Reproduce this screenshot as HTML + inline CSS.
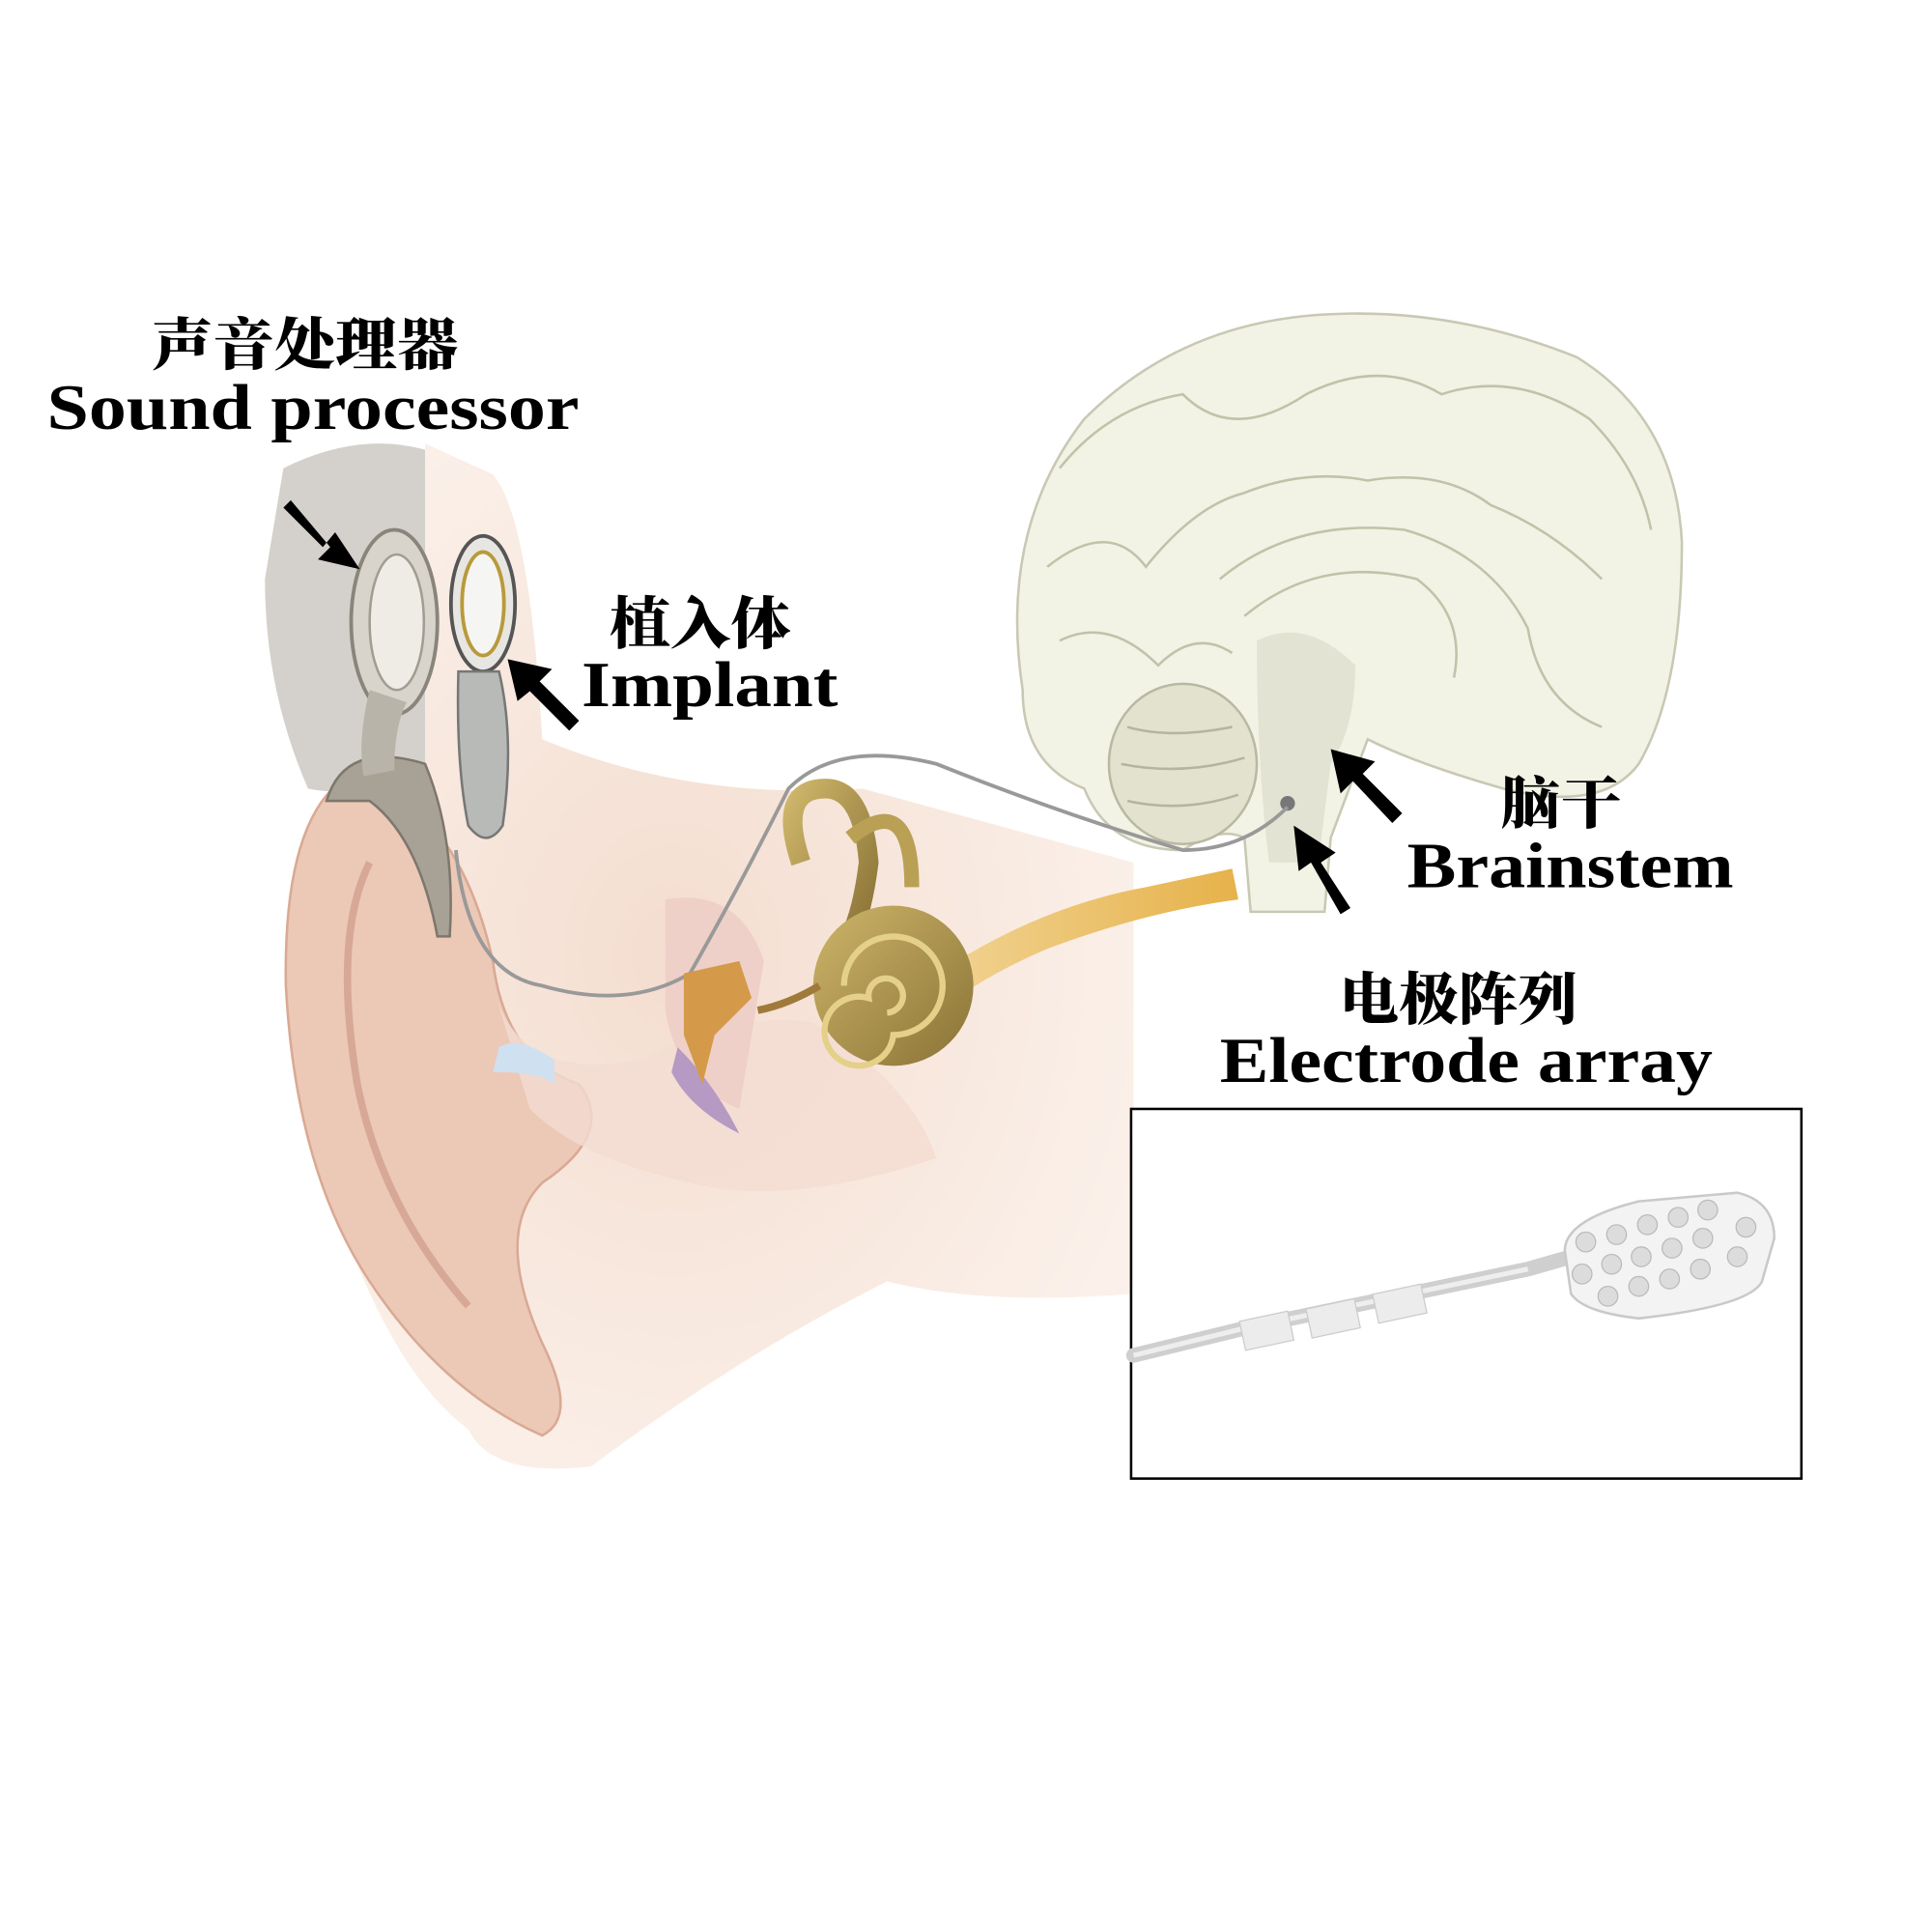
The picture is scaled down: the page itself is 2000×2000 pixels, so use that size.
<!DOCTYPE html>
<html><head><meta charset="utf-8"><style>
html,body{margin:0;padding:0;background:#fff}
svg{display:block}
text{font-family:"Liberation Serif","Noto Serif CJK SC",serif;font-weight:bold;fill:#000}
.cjk{font-family:"Noto Serif CJK SC","Liberation Serif",serif;font-weight:900}
</style></head><body>
<svg width="2000" height="2000" viewBox="0 0 1568 1568" xmlns="http://www.w3.org/2000/svg">
<defs>
<radialGradient id="skin" cx="0.45" cy="0.5" r="0.6"><stop offset="0" stop-color="#f4ddd0"/><stop offset="1" stop-color="#fbf1ea"/></radialGradient>
<linearGradient id="gold" x1="0" y1="0" x2="1" y2="1"><stop offset="0" stop-color="#cdb56a"/><stop offset="1" stop-color="#8a7236"/></linearGradient>
<linearGradient id="nerve" x1="0" y1="0" x2="1" y2="0"><stop offset="0" stop-color="#f3d9a0"/><stop offset="1" stop-color="#e6b24a"/></linearGradient>
</defs>
<rect width="1568" height="1568" fill="#fff"/>
<path d="M230 380 Q290 350 345 365 L350 620 Q300 650 250 640 Q215 560 215 470 Z" fill="#c9c6c0" opacity="0.8"/>
<path d="M345 360 L400 385 Q430 420 440 600 Q560 650 700 640 L920 700 L920 1050 Q800 1060 720 1040 Q600 1100 480 1190 Q400 1200 380 1160 Q300 1100 250 900 Q230 780 250 700 Q280 640 345 620 Z" fill="url(#skin)"/>
<path d="M270 640 Q230 680 232 800 Q240 950 300 1040 Q360 1130 440 1165 Q470 1150 440 1090 Q400 1000 440 960 Q500 920 470 880 Q410 860 400 780 Q380 690 330 650 Z" fill="#ecc8b6" stroke="#d9a994" stroke-width="2"/>
<path d="M300 700 Q270 760 290 880 Q310 980 380 1060" fill="none" stroke="#d7a896" stroke-width="6"/>
<path d="M400 800 Q420 880 520 860 Q600 820 660 830 Q740 880 760 940 Q640 980 560 960 Q470 940 430 900 Z" fill="#f4dcd2" opacity="0.8"/>
<path d="M540 730 Q600 720 620 780 L600 900 Q550 880 540 820 Z" fill="#efd0c8"/>
<path d="M550 850 Q580 880 600 920 Q560 900 545 870 Z" fill="#b79ac4"/>
<path d="M400 870 Q440 870 450 880 L450 860 Q420 840 405 850 Z" fill="#cfe0f0"/>
<path d="M720 820 Q820 740 930 720 L1000 705 L1005 730 Q930 740 850 770 Q780 800 740 840 Z" fill="url(#nerve)"/>
<path d="M830 560 Q810 430 880 340 Q960 260 1080 255 Q1180 250 1280 290 Q1360 340 1365 440 Q1365 560 1330 620 Q1300 660 1220 640 Q1150 620 1110 600 L1080 680 L1075 740 L1015 740 L1010 680 Q990 670 960 690 Q900 690 880 640 Q830 620 830 560 Z" fill="#f2f3e4" stroke="#c8c8b4" stroke-width="2"/>
<g fill="none" stroke="#c2c2aa" stroke-width="2">
<path d="M860 380 Q900 330 960 320 Q1000 360 1060 320 Q1120 290 1170 320 Q1230 300 1290 340 Q1330 380 1340 430"/>
<path d="M850 460 Q900 420 930 460 Q970 410 1010 400 Q1060 380 1110 390 Q1170 380 1210 410 Q1260 430 1300 470"/>
<path d="M990 470 Q1050 420 1140 430 Q1210 450 1240 510 Q1250 570 1300 590"/>
<path d="M1010 500 Q1070 450 1150 470 Q1190 500 1180 550"/>
<path d="M860 520 Q900 500 940 540 Q970 510 1000 530"/>
</g>
<ellipse cx="960" cy="620" rx="60" ry="65" fill="#e2e2cf" stroke="#b9b9a3" stroke-width="2"/>
<path d="M915 590 Q950 600 1000 590 M910 620 Q960 630 1010 615 M915 650 Q960 660 1005 645" stroke="#b5b59f" fill="none" stroke-width="2"/>
<path d="M1020 520 Q1060 500 1100 540 Q1100 590 1080 620 L1070 700 L1030 700 Q1020 620 1020 520 Z" fill="#e3e3d3"/>
<circle cx="1045" cy="652" r="6" fill="#777"/>
<path d="M370 690 Q380 790 440 800 Q510 820 560 790 Q600 720 640 640 Q680 600 760 620 Q860 660 960 690 Q1010 690 1045 655" fill="none" stroke="#999" stroke-width="3"/>
<path d="M265 650 Q280 600 345 620 Q370 680 365 760 L355 760 Q340 680 300 650 Z" fill="#a8a296" stroke="#7d776d" stroke-width="2"/>
<ellipse cx="320" cy="505" rx="35" ry="75" fill="#d8d4cc" stroke="#8a857b" stroke-width="3"/>
<ellipse cx="322" cy="505" rx="22" ry="55" fill="#efece6" stroke="#a29d92" stroke-width="2"/>
<path d="M300 560 Q290 600 295 630 L320 625 Q320 590 330 570 Z" fill="#b9b4aa"/>
<ellipse cx="392" cy="490" rx="26" ry="55" fill="#e8e6e2" stroke="#555" stroke-width="3"/>
<ellipse cx="392" cy="490" rx="17" ry="42" fill="#f5f5f3" stroke="#b99a3a" stroke-width="3"/>
<path d="M372 545 Q370 620 380 670 Q395 690 408 670 Q418 600 405 545 Z" fill="#b8bab8" stroke="#777" stroke-width="2"/>
<path d="M650 700 Q630 640 670 640 Q700 640 705 700 Q700 740 690 760" fill="none" stroke="url(#gold)" stroke-width="16"/>
<path d="M690 680 Q740 640 740 720" fill="none" stroke="#b9a055" stroke-width="12"/>
<circle cx="725" cy="800" r="65" fill="url(#gold)"/>
<path d="M725 800 m-40 0 a40 40 0 1 1 40 40 a28 28 0 1 1 -20 -30 a14 14 0 1 1 15 12" fill="none" stroke="#e5d08a" stroke-width="5"/>
<path d="M555 790 L600 780 L610 810 L580 840 L570 880 L555 840 Z" fill="#d49a4a"/>
<path d="M615 820 Q640 815 665 800" stroke="#a07a3a" stroke-width="6" fill="none"/>
<rect x="918" y="900" width="544" height="300" fill="#fff" stroke="#000" stroke-width="2"/>
<path d="M920 1100 L1010 1078 L1240 1030 L1275 1020" stroke="#cfcfcf" stroke-width="12" fill="none" stroke-linecap="round"/>
<path d="M920 1100 L1010 1078 L1240 1030" stroke="#eee" stroke-width="4" fill="none"/>
<rect x="1008" y="1068" width="40" height="24" fill="#ececec" stroke="#ccc" transform="rotate(-12 1028 1080)"/>
<rect x="1062" y="1058" width="40" height="24" fill="#ececec" stroke="#ccc" transform="rotate(-12 1082 1070)"/>
<rect x="1116" y="1046" width="40" height="24" fill="#ececec" stroke="#ccc" transform="rotate(-12 1136 1058)"/>
<path d="M1270 1015 Q1270 990 1330 975 L1410 968 Q1440 975 1440 1005 L1430 1040 Q1420 1060 1330 1070 Q1285 1065 1275 1050 Z" fill="#f3f3f3" stroke="#c9c9c9" stroke-width="2"/>
<g fill="#dcdcdc" stroke="#bbb">
<circle cx="1287" cy="1008" r="8"/><circle cx="1312" cy="1002" r="8"/><circle cx="1337" cy="994" r="8"/><circle cx="1362" cy="988" r="8"/><circle cx="1386" cy="982" r="8"/>
<circle cx="1284" cy="1034" r="8"/><circle cx="1308" cy="1026" r="8"/><circle cx="1332" cy="1020" r="8"/><circle cx="1357" cy="1013" r="8"/><circle cx="1382" cy="1005" r="8"/><circle cx="1417" cy="996" r="8"/>
<circle cx="1305" cy="1052" r="8"/><circle cx="1330" cy="1044" r="8"/><circle cx="1355" cy="1038" r="8"/><circle cx="1380" cy="1030" r="8"/><circle cx="1410" cy="1020" r="8"/>
</g>
<g fill="#000">
<path d="M230 412 L262 444 L272 432 L292 462 L258 454 L268 444 L236 406 Z"/>
<path d="M470 585 L438 553 L448 543 L412 535 L420 569 L430 561 L462 593 Z"/>
<path d="M1138 660 L1106 628 L1116 618 L1080 608 L1088 644 L1098 634 L1130 668 Z"/>
<path d="M1096 737 L1072 700 L1084 692 L1050 670 L1054 707 L1064 700 L1088 742 Z"/>
</g>
<text class="cjk" x="123" y="296" font-size="46" textLength="249" lengthAdjust="spacingAndGlyphs">声音处理器</text>
<text x="38" y="348" font-size="52" textLength="432" lengthAdjust="spacingAndGlyphs">Sound processor</text>
<text class="cjk" x="495" y="522" font-size="46" textLength="147" lengthAdjust="spacingAndGlyphs">植入体</text>
<text x="472" y="573" font-size="52" textLength="208" lengthAdjust="spacingAndGlyphs">Implant</text>
<text class="cjk" x="1218" y="668" font-size="46" textLength="98" lengthAdjust="spacingAndGlyphs">脑干</text>
<text x="1142" y="720" font-size="52" textLength="265" lengthAdjust="spacingAndGlyphs">Brainstem</text>
<text class="cjk" x="1087" y="827" font-size="46" textLength="193" lengthAdjust="spacingAndGlyphs">电极阵列</text>
<text x="990" y="878" font-size="52" textLength="400" lengthAdjust="spacingAndGlyphs">Electrode array</text>
</svg>
</body></html>
